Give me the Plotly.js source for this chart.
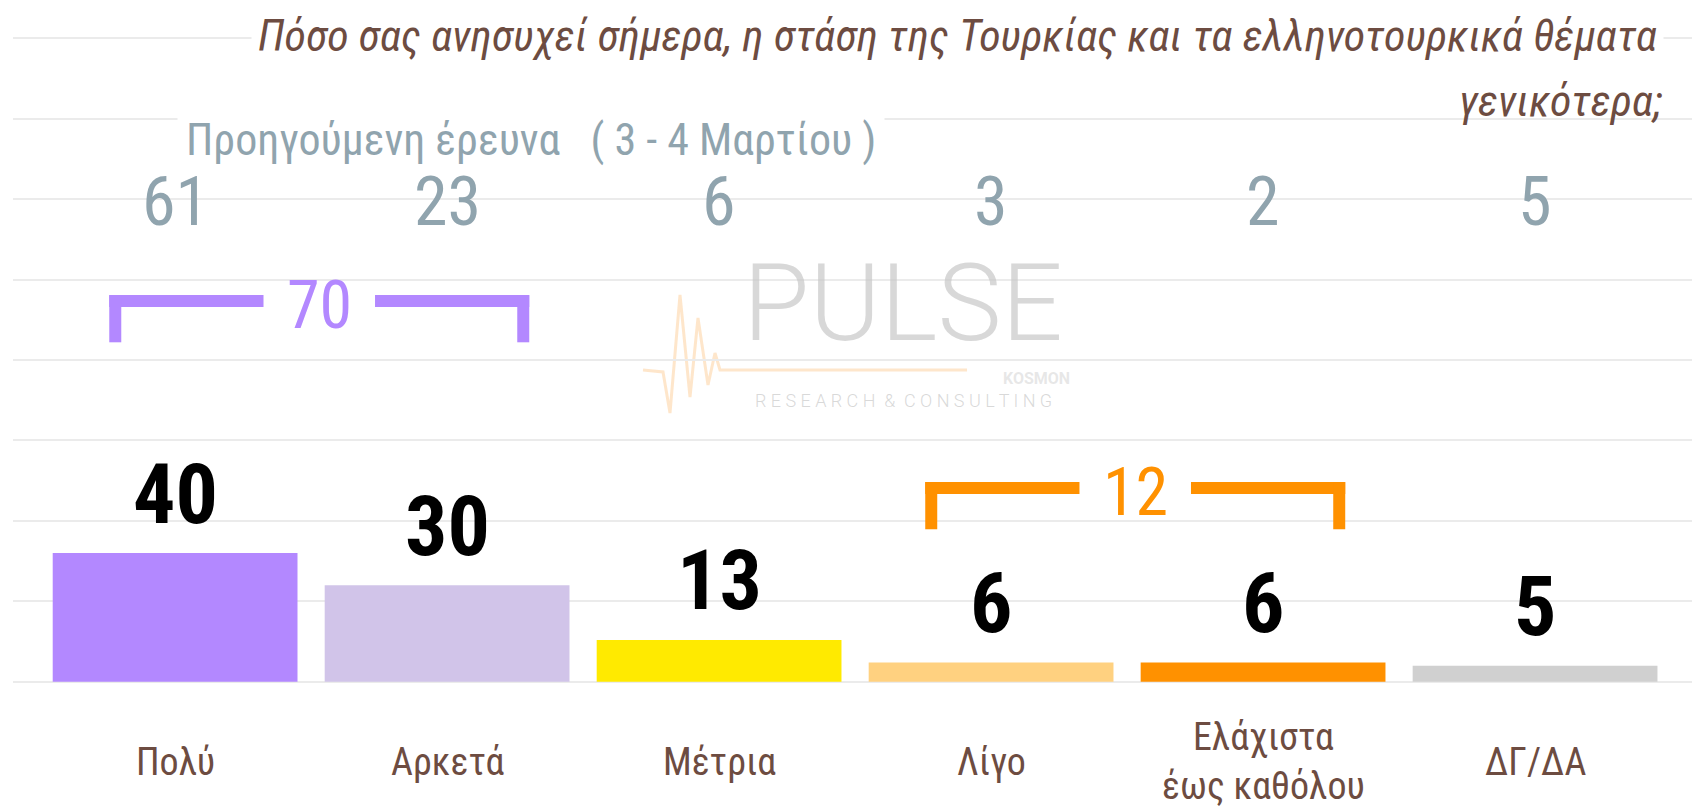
<!DOCTYPE html>
<html>
<head>
<meta charset="utf-8">
<script src="https://cdn.plot.ly/plotly-3.0.1.min.js"></script>
<style>html,body{margin:0;padding:0;background:#fff;}#chart{width:1692px;height:809px;}</style>
</head>
<body>
<div id="chart"></div>
<script>
// ---- data ----
const categories = ['Πολύ', 'Αρκετά', 'Μέτρια', 'Λίγο', 'Ελάχιστα<br>έως καθόλου', 'ΔΓ/ΔΑ'];
const currentValues = [40, 30, 13, 6, 6, 5];
const previousValues = [61, 23, 6, 3, 2, 5];
const barColors = ['#b388ff', '#d1c4e9', '#ffea00', '#ffd180', '#ff9100', '#d0d0d0'];
const groupStart = [0, 3];
const groupEnd = [1, 4];
const groupTotals = [70, 12];
const groupColors = ['#b388ff', '#ff9100'];
const groupLevels = [118.3, 60.2];
const titleLine1 = 'Πόσο σας ανησυχεί σήμερα, η στάση της Τουρκίας και τα ελληνοτουρκικά θέματα';
const titleLine2 = 'γενικότερα;';
const previousLabel = 'Προηγούμενη έρευνα &nbsp; ( 3 - 4 Μαρτίου )';

// ---- layout constants ----
const W = 1692, H = 809;
const M = {l: 13, r: 0, t: 35, b: 124};
const FONT = "'Roboto Condensed', 'Liberation Sans Narrow', 'DejaVu Sans Condensed', 'Open Sans', Roboto, sans-serif";
const BROWN = '#6d4c41';
const GREYBLUE = '#90a4ae';
const plotW = W - M.l - M.r, plotH = H - M.t - M.b;
const px = X => (X - M.l) / plotW;          // page px -> paper x
const py = Y => (H - M.b - Y) / plotH;      // page px -> paper y

const trace = {
  type: 'bar',
  x: categories.map((c, i) => i),
  y: currentValues,
  width: 0.9,
  marker: {color: barColors},
  hoverinfo: 'none',
  cliponaxis: false
};

const annotations = [];
const shapes = [];

// bar value labels
currentValues.forEach((v, i) => annotations.push({
  x: i, y: v, xref: 'x', yref: 'y', text: String(v), showarrow: false,
  yanchor: 'middle', yshift: 59,
  font: {family: FONT, size: 84, color: '#000', weight: 'bold'}
}));
// category labels
categories.forEach((c, i) => annotations.push({
  x: i, y: 0, xref: 'x', yref: 'y', text: c, showarrow: false,
  yanchor: 'middle', yshift: -80,
  font: {family: FONT, size: 38, color: BROWN}
}));
// previous survey values
previousValues.forEach((v, i) => annotations.push({
  x: i, y: py(202), xref: 'x', yref: 'paper', text: String(v), showarrow: false,
  yanchor: 'middle',
  font: {family: FONT, size: 68, color: GREYBLUE}
}));
// previous survey label
annotations.push({
  x: px(531), y: py(140), xref: 'paper', yref: 'paper', text: previousLabel, showarrow: false,
  xanchor: 'center', yanchor: 'middle', bgcolor: '#ffffff', borderpad: 8,
  font: {family: FONT, size: 44, color: GREYBLUE}
});
// title
annotations.push({
  x: px(1664), y: py(36), xref: 'paper', yref: 'paper', text: '<i>' + titleLine1 + '</i>', showarrow: false,
  xanchor: 'right', yanchor: 'middle', bgcolor: '#ffffff', borderpad: 6,
  font: {family: FONT, size: 44, color: BROWN}
});
annotations.push({
  x: px(1664), y: py(101), xref: 'paper', yref: 'paper', text: '<i>' + titleLine2 + '</i>', showarrow: false,
  xanchor: 'right', yanchor: 'middle',
  font: {family: FONT, size: 44, color: BROWN}
});

// group brackets
const LW = 12;                  // bracket thickness (px)
const hx = (LW / 2) / 272;      // half thickness in x units
const hy = (LW / 2) / 3.22;     // half thickness in y units
groupTotals.forEach((tot, k) => {
  const left = groupStart[k] - 0.22, right = groupEnd[k] + 0.28;
  const mid = (groupStart[k] + groupEnd[k]) / 2 + 0.03;
  const lvl = groupLevels[k], drop = 12.8, col = groupColors[k];
  const ln = {color: col, width: LW};
  shapes.push({type: 'line', xref: 'x', yref: 'y', x0: left - hx, x1: mid - 0.205, y0: lvl, y1: lvl, line: ln});
  shapes.push({type: 'line', xref: 'x', yref: 'y', x0: mid + 0.205, x1: right + hx, y0: lvl, y1: lvl, line: ln});
  shapes.push({type: 'line', xref: 'x', yref: 'y', x0: left, x1: left, y0: lvl + hy, y1: lvl - drop, line: ln});
  shapes.push({type: 'line', xref: 'x', yref: 'y', x0: right, x1: right, y0: lvl + hy, y1: lvl - drop, line: ln});
  annotations.push({
    x: mid, y: lvl - 1.5, xref: 'x', yref: 'y', text: String(tot), showarrow: false,
    yanchor: 'middle', font: {family: FONT, size: 66, color: col}
  });
});

// watermark logo
const pulse = [[643,370],[663,372],[670,413],[680,295],[690,397],[698,318],[708,385],[715,353],[720,370],[967,370]];
shapes.push({
  type: 'path', xref: 'paper', yref: 'paper', layer: 'below',
  path: 'M ' + pulse.map(p => px(p[0]).toFixed(5) + ',' + py(p[1]).toFixed(5)).join(' L '),
  line: {color: 'rgba(253,222,185,0.75)', width: 3}
});
annotations.push({
  x: px(903), y: py(303), xref: 'paper', yref: 'paper', text: 'PULSE', showarrow: false,
  xanchor: 'center', yanchor: 'middle',
  font: {family: 'Roboto, sans-serif', size: 108, color: 'rgba(200,200,200,0.7)', weight: 300}
});
annotations.push({
  x: px(1072), y: py(378), xref: 'paper', yref: 'paper', text: 'KOSMON', showarrow: false,
  xanchor: 'right', yanchor: 'middle',
  font: {family: 'Roboto, sans-serif', size: 16, color: 'rgba(215,215,215,0.6)', weight: 'bold'}
});
annotations.push({
  x: px(903), y: py(400), xref: 'paper', yref: 'paper', text: 'R E S E A R C H &nbsp;&amp;&nbsp; C O N S U L T I N G', showarrow: false,
  xanchor: 'center', yanchor: 'middle',
  font: {family: 'Roboto, sans-serif', size: 18, color: 'rgba(200,200,200,0.7)', weight: 300}
});

const layout = {
  width: W, height: H,
  margin: M,
  paper_bgcolor: '#ffffff', plot_bgcolor: '#ffffff',
  showlegend: false,
  xaxis: {range: [-0.596, 5.577], showticklabels: false, showgrid: false, zeroline: false, showline: false, ticks: '', fixedrange: true},
  yaxis: {range: [-1, 201], dtick: 25, tick0: 0, showticklabels: false, showgrid: true, gridcolor: '#ebebeb', gridwidth: 2, zeroline: false, showline: false, ticks: '', fixedrange: true},
  annotations: annotations,
  shapes: shapes
};

Plotly.newPlot('chart', [trace], layout, {displayModeBar: false, staticPlot: true});
</script>
</body>
</html>
